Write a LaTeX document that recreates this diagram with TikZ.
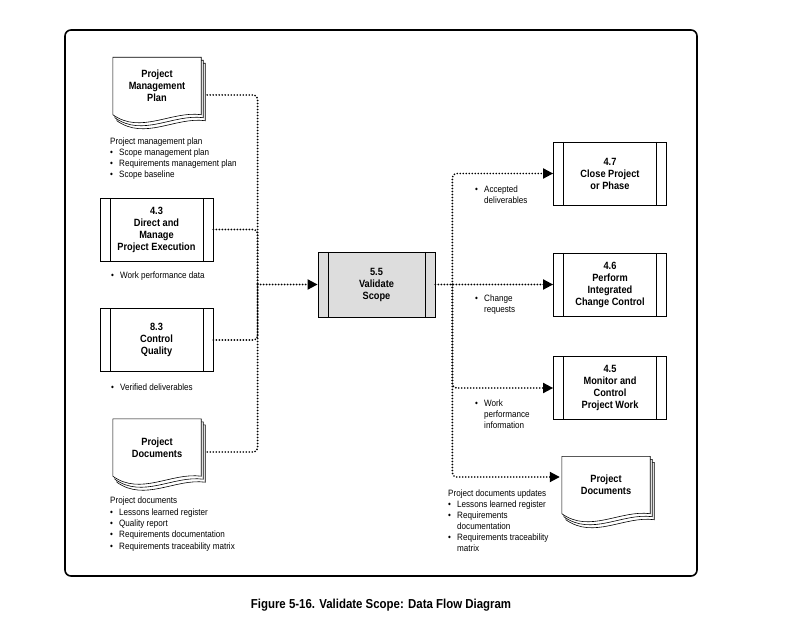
\documentclass[tikz,border=0pt]{standalone}
\usepackage{fontspec}
\newfontfamily\dfdfont{Liberation Sans}[FakeStretch=0.88]
\usetikzlibrary{arrows.meta,backgrounds}
\definecolor{vsgray}{RGB}{221,221,221}
\newcommand{\itm}{\makebox[9pt][l]{\textbullet}}
\newcommand{\itmgap}{\hspace*{9pt}}

\begin{document}
\begin{tikzpicture}[x=1pt,y=-1pt]
   \tikzstyle{procbox}=[draw, fill=white, line width=0.8pt, minimum width=113pt, minimum height=63pt, inner sep=0pt, align=center,
      font=\dfdfont\bfseries\fontsize{10.5}{12}\selectfont,
      path picture={\draw[line width=0.8pt] ([xshift=10pt]path picture bounding box.north west) -- ([xshift=10pt]path picture bounding box.south west)
         ([xshift=-10pt]path picture bounding box.north east) -- ([xshift=-10pt]path picture bounding box.south east);}]
   \tikzstyle{docnode}=[minimum width=88pt, minimum height=57pt, inner sep=0pt, align=center, font=\dfdfont\bfseries\fontsize{10.5}{12}\selectfont]
   \tikzstyle{note}=[anchor=north west, inner sep=0pt, align=left, font=\dfdfont\fontsize{9.2}{11}\selectfont]
   \tikzstyle{flow}=[line width=1.9pt, dash pattern=on 0pt off 3pt, line cap=round, rounded corners=4pt]
   \tikzstyle{flowarrow}=[flow, -{Triangle[length=10pt, width=10pt]}]

\useasboundingbox (0,0) rectangle (785,631);
\draw[line width=1.6pt, rounded corners=6pt] (65,30) rectangle (697,576);

% inputs
\node[docnode] (pmp) at (157,86) {Project\\Management\\Plan};
\node[procbox] (dme) at (156.5,229.5) {4.3\\Direct and\\Manage\\Project Execution};
\node[procbox] (qc) at (156.5,340) {8.3\\Control\\Quality};
\node[docnode] (pdl) at (157,447.5) {Project\\Documents};

% process
\node[procbox, fill=vsgray, minimum width=117pt, minimum height=65pt] (vs) at (376.5,284.5) {5.5\\Validate\\Scope};

% outputs
\node[procbox] (cpp) at (610,173.5) {4.7\\Close Project\\or Phase};
\node[procbox] (pic) at (610,284.5) {4.6\\Perform\\Integrated\\Change Control};
\node[procbox] (mcw) at (610,388) {4.5\\Monitor and\\Control\\Project Work};
\node[docnode] (pdr) at (606,485) {Project\\Documents};

% document stacks
\begin{scope}[on background layer]
\foreach \n in {pmp,pdl,pdr} {
   \foreach \dx/\dy in {4/6,2/3,0/0} {
      \draw[fill=white, line width=0.6pt] ([shift={(\dx pt,-\dy pt)}]\n.north west) -- ([shift={(\dx pt,-\dy pt)}]\n.north east)
         -- ([shift={(\dx pt,-\dy pt)}]\n.south east) .. controls +(-30pt,4pt) and +(28pt,-20pt) .. ([shift={(\dx pt,-\dy pt)}]\n.south west) -- cycle;
   }
}
\end{scope}

% labels
\node[note] (pmpnote) at (110,138) {Project management plan\\\itm Scope management plan\\\itm Requirements management plan\\\itm Scope baseline};
\node[note] (dmenote) at (111,272) {\itm Work performance data};
\node[note] (qcnote) at (111,384) {\itm Verified deliverables};
\node[note, font=\dfdfont\fontsize{9.2}{11.3}\selectfont] (pdlnote) at (110,497) {Project documents\\\itm Lessons learned register\\\itm Quality report\\\itm Requirements documentation\\\itm Requirements traceability matrix};
\node[note] (cppnote) at (475,186) {\itm Accepted\\\itmgap deliverables};
\node[note] (picnote) at (475,294.5) {\itm Change\\\itmgap requests};
\node[note] (mcwnote) at (475,399.5) {\itm Work\\\itmgap performance\\\itmgap information};
\node[note] (pdrnote) at (448,489.5) {Project documents updates\\\itm Lessons learned register\\\itm Requirements\\\itmgap documentation\\\itm Requirements traceability\\\itmgap matrix};

% flows
\coordinate (jl) at ([xshift=-60pt]vs.west);
\coordinate (jr) at ([xshift=17pt]vs.east);
\draw[flow] ([shift={(6pt,-9pt)}]pmp.east) -| (jl);
\draw[flow] (dme.east) -| (jl);
\draw[flow] (qc.east) -| (jl);
\draw[flow] ([shift={(6pt,-4.5pt)}]pdl.east) -| (jl);
\draw[flowarrow] (jl) -- (vs.west);
\draw[flowarrow] (vs.east) -- (pic.west);
\draw[flowarrow] (jr) |- (cpp.west);
\draw[flowarrow] (jr) |- (mcw.west);
\draw[flowarrow] (jr) |- ([shift={(-2pt,8pt)}]pdr.west);

\node[font=\dfdfont\bfseries\fontsize{13}{15}\selectfont] (caption) at (381,605) {Figure 5-16. Validate Scope: Data Flow Diagram};
\end{tikzpicture}
\end{document}
